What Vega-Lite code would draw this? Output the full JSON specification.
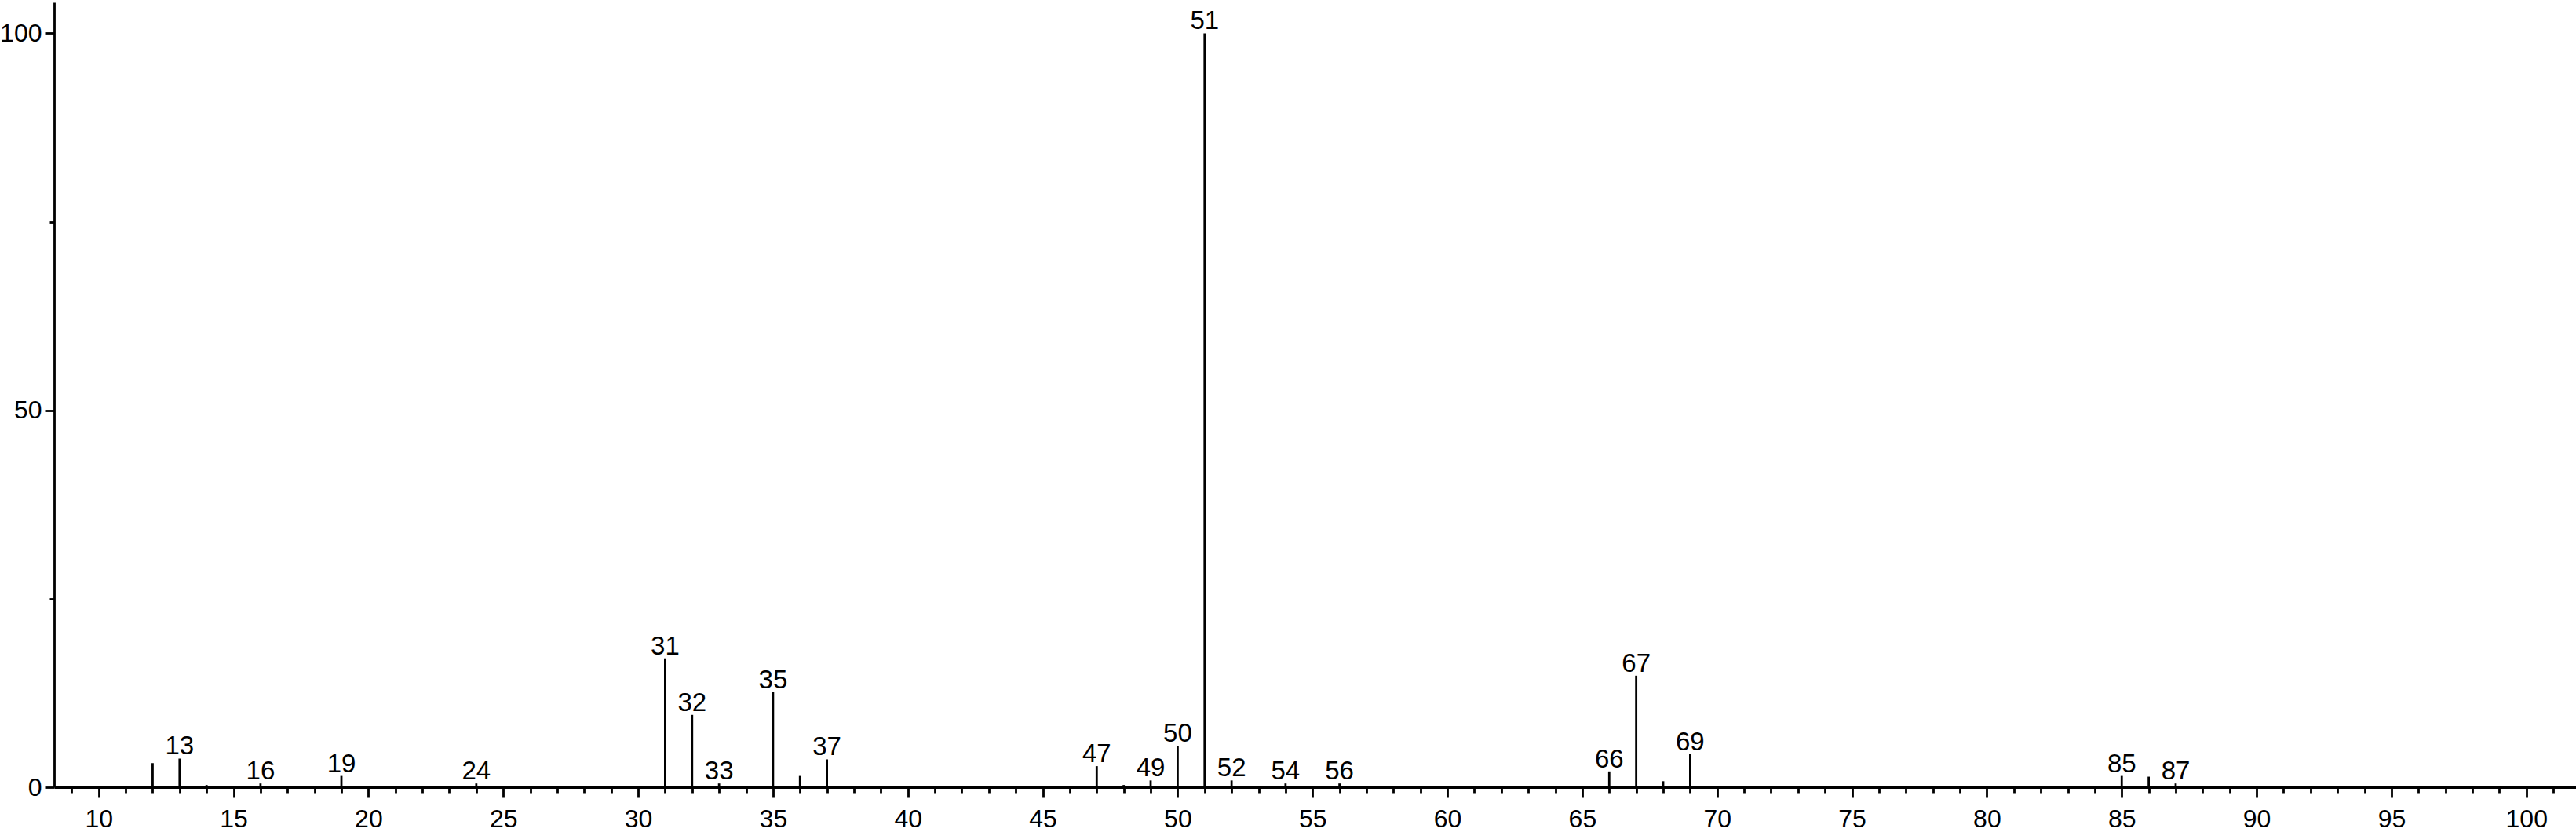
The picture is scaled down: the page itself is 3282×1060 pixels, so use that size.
{
  "$schema": "https://vega.github.io/schema/vega-lite/v6.json",
  "width": 3213,
  "height": 1000,
  "autosize": {"type": "none"},
  "padding": {"left": 69, "top": 3, "right": 0, "bottom": 57},
  "background": "white",
  "config": {"view": {"stroke": null}, "font": "Liberation Sans"},
  "data": {
    "values": [
      {"mz": 12, "intensity": 3.2, "labeled": false},
      {"mz": 13, "intensity": 3.8, "labeled": true},
      {"mz": 14, "intensity": 0.3, "labeled": false},
      {"mz": 16, "intensity": 0.5, "labeled": true},
      {"mz": 19, "intensity": 1.5, "labeled": true},
      {"mz": 24, "intensity": 0.5, "labeled": true},
      {"mz": 31, "intensity": 17.1, "labeled": true},
      {"mz": 32, "intensity": 9.6, "labeled": true},
      {"mz": 33, "intensity": 0.5, "labeled": true},
      {"mz": 34, "intensity": 0.2, "labeled": false},
      {"mz": 35, "intensity": 12.6, "labeled": true},
      {"mz": 36, "intensity": 1.5, "labeled": false},
      {"mz": 37, "intensity": 3.7, "labeled": true},
      {"mz": 38, "intensity": 0.2, "labeled": false},
      {"mz": 47, "intensity": 2.8, "labeled": true},
      {"mz": 48, "intensity": 0.3, "labeled": false},
      {"mz": 49, "intensity": 0.9, "labeled": true},
      {"mz": 50, "intensity": 5.5, "labeled": true},
      {"mz": 51, "intensity": 100, "labeled": true},
      {"mz": 52, "intensity": 0.9, "labeled": true},
      {"mz": 53, "intensity": 0.2, "labeled": false},
      {"mz": 54, "intensity": 0.5, "labeled": true},
      {"mz": 56, "intensity": 0.5, "labeled": true},
      {"mz": 66, "intensity": 2.1, "labeled": true},
      {"mz": 67, "intensity": 14.8, "labeled": true},
      {"mz": 68, "intensity": 0.8, "labeled": false},
      {"mz": 69, "intensity": 4.4, "labeled": true},
      {"mz": 70, "intensity": 0.2, "labeled": false},
      {"mz": 85, "intensity": 1.5, "labeled": true},
      {"mz": 86, "intensity": 1.4, "labeled": false},
      {"mz": 87, "intensity": 0.5, "labeled": true}
    ]
  },
  "layer": [
    {
      "mark": {"type": "rule", "color": "black", "strokeWidth": 2.8},
      "encoding": {
        "x": {
          "field": "mz", "type": "quantitative",
          "scale": {"domain": [8.35, 101.84], "nice": false, "zero": false},
          "axis": {
            "orient": "bottom", "title": null, "grid": false,
            "values": [10,15,20,25,30,35,40,45,50,55,60,65,70,75,80,85,90,95,100],
            "tickSize": 13, "tickWidth": 2.8, "tickColor": "black",
            "domainColor": "black", "domainWidth": 2.8,
            "labelFont": "Liberation Sans", "labelFontSize": 32, "labelColor": "black",
            "labelPadding": 12, "labelFlush": false, "labelOverlap": false
          }
        },
        "y": {
          "field": "intensity", "type": "quantitative",
          "scale": {"domain": [0, 104.1], "nice": false},
          "axis": {
            "orient": "left", "title": null, "grid": false,
            "values": [0, 50, 100],
            "tickSize": 12, "tickWidth": 2.8, "tickColor": "black",
            "domainColor": "black", "domainWidth": 2.8,
            "labelFont": "Liberation Sans", "labelFontSize": 32, "labelColor": "black",
            "labelPadding": 4, "labelFlush": false, "labelOverlap": false
          }
        },
        "y2": {"datum": 0}
      }
    },
    {
      "transform": [{"filter": "datum.labeled"}],
      "mark": {"type": "text", "font": "Liberation Sans", "fontSize": 33, "color": "black", "baseline": "alphabetic", "align": "center", "dy": -5},
      "encoding": {
        "x": {
          "field": "mz", "type": "quantitative",
          "axis": {
            "orient": "bottom", "title": null, "grid": false, "domain": false, "labels": false,
            "values": [9,11,12,13,14,16,17,18,19,21,22,23,24,26,27,28,29,31,32,33,34,36,37,38,39,41,42,43,44,46,47,48,49,51,52,53,54,56,57,58,59,61,62,63,64,66,67,68,69,71,72,73,74,76,77,78,79,81,82,83,84,86,87,88,89,91,92,93,94,96,97,98,99,101],
            "tickSize": 7, "tickWidth": 2.8, "tickColor": "black"
          }
        },
        "y": {
          "field": "intensity", "type": "quantitative",
          "axis": {
            "orient": "left", "title": null, "grid": false, "domain": false, "labels": false,
            "values": [25, 75],
            "tickSize": 6, "tickWidth": 2.8, "tickColor": "black"
          }
        },
        "text": {"field": "mz", "type": "nominal"}
      }
    }
  ],
  "resolve": {"axis": {"x": "independent", "y": "independent"}}
}
